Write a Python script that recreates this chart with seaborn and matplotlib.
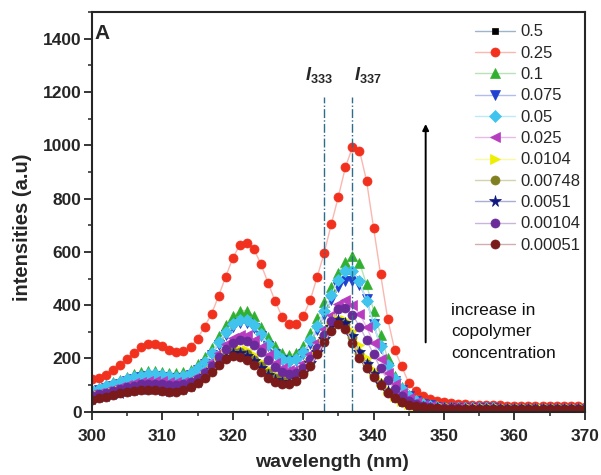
import pandas as pd
import matplotlib
matplotlib.use("Agg")
import matplotlib.pyplot as plt
from matplotlib.ticker import MultipleLocator
from matplotlib.colors import to_rgb
import seaborn as sns

# wavelength grid (nm), one point per nm
wavelength = list(range(300, 371))

conc_labels = ['0.5', '0.25', '0.1', '0.075', '0.05', '0.025',
               '0.0104', '0.00748', '0.0051', '0.00104', '0.00051']

i_0_5 = [78, 86, 95, 104, 113, 122, 130, 136, 140, 140,
         137, 133, 132, 135, 145, 163, 188, 220, 262, 300,
         330, 345, 343, 325, 292, 255, 222, 198, 190, 198,
         225, 268, 322, 380, 440, 495, 528, 530, 490, 415,
         330, 245, 175, 122, 84, 58, 40, 30, 23, 19,
         16, 15, 14, 14, 13, 13, 13, 13, 12, 12,
         12, 12, 12, 12, 12, 12, 11, 11, 11, 11, 11]
i_0_25 = [123, 126, 139, 155, 175, 198, 222, 243, 254, 253,
          245, 233, 226, 229, 243, 275, 320, 368, 435, 507,
          576, 626, 635, 610, 554, 485, 416, 357, 330, 330,
          358, 418, 507, 597, 704, 807, 917, 993, 980, 867,
          690, 516, 350, 232, 170, 108, 77, 60, 48, 41,
          35, 32, 30, 28, 27, 26, 25, 24, 24, 23,
          23, 22, 22, 21, 21, 21, 20, 20, 20, 20, 19]
i_0_1 = [82, 90, 100, 110, 120, 130, 140, 148, 153, 153,
         150, 146, 145, 148, 158, 178, 205, 240, 285, 325,
         358, 378, 380, 358, 320, 282, 247, 220, 212, 220,
         248, 295, 352, 412, 470, 522, 562, 585, 560, 478,
         380, 290, 200, 135, 92, 62, 43, 32, 25, 20,
         17, 16, 15, 15, 14, 14, 14, 13, 13, 13,
         13, 13, 12, 12, 12, 12, 12, 12, 12, 12, 12]
i_0_075 = [72, 80, 88, 97, 106, 115, 123, 129, 133, 133,
           130, 126, 125, 128, 138, 155, 180, 212, 252, 290,
           318, 332, 332, 314, 283, 248, 216, 193, 184, 192,
           216, 256, 306, 362, 420, 468, 492, 490, 475, 425,
           330, 240, 165, 115, 82, 58, 41, 31, 24, 19,
           16, 15, 14, 14, 13, 13, 13, 13, 12, 12,
           12, 12, 12, 12, 12, 12, 11, 11, 11, 11, 11]
i_0_05 = [78, 86, 95, 104, 113, 122, 130, 136, 140, 140,
          137, 133, 132, 135, 145, 163, 188, 220, 262, 300,
          330, 345, 343, 325, 292, 255, 222, 198, 190, 198,
          225, 268, 322, 380, 440, 495, 528, 530, 490, 415,
          330, 245, 175, 122, 84, 58, 40, 30, 23, 19,
          16, 15, 14, 14, 13, 13, 13, 13, 12, 12,
          12, 12, 12, 12, 12, 12, 11, 11, 11, 11, 11]
i_0_025 = [65, 72, 79, 86, 94, 101, 108, 113, 116, 116,
           114, 111, 110, 113, 121, 136, 158, 186, 220, 253,
           278, 290, 287, 270, 243, 212, 184, 163, 155, 162,
           183, 218, 262, 312, 365, 405, 418, 400, 368, 318,
           258, 198, 147, 104, 72, 50, 35, 27, 21, 17,
           15, 14, 13, 13, 13, 12, 12, 12, 12, 12,
           12, 11, 11, 11, 11, 11, 11, 11, 11, 11, 10]
i_0_0104 = [52, 58, 64, 71, 77, 83, 88, 92, 94, 93,
            90, 87, 86, 89, 98, 112, 132, 158, 188, 215,
            232, 237, 230, 212, 188, 160, 137, 122, 118, 126,
            148, 182, 225, 272, 318, 350, 345, 305, 250, 200,
            155, 115, 82, 58, 41, 30, 23, 19, 16, 14,
            13, 13, 12, 12, 12, 12, 12, 11, 11, 11,
            11, 11, 11, 11, 11, 11, 10, 10, 10, 10, 10]
i_0_00748 = [50, 56, 62, 68, 74, 80, 84, 87, 89, 88,
             85, 82, 82, 88, 98, 114, 135, 160, 188, 212,
             225, 226, 216, 196, 170, 144, 125, 115, 115, 126,
             150, 185, 228, 276, 320, 342, 330, 280, 222, 178,
             138, 104, 75, 54, 38, 28, 22, 18, 15, 14,
             13, 13, 12, 12, 12, 12, 11, 11, 11, 11,
             11, 11, 11, 11, 10, 10, 10, 10, 10, 10, 10]
i_0_0051 = [48, 54, 60, 66, 72, 78, 82, 85, 86, 85,
            82, 79, 80, 86, 96, 112, 133, 157, 184, 207,
            220, 220, 210, 190, 164, 139, 121, 112, 113, 124,
            148, 182, 226, 275, 320, 345, 333, 285, 225, 180,
            140, 106, 77, 55, 39, 29, 22, 18, 15, 14,
            13, 13, 12, 12, 12, 12, 11, 11, 11, 11,
            11, 11, 11, 11, 10, 10, 10, 10, 10, 10, 10]
i_0_00104 = [58, 65, 72, 79, 86, 92, 98, 103, 106, 106,
             104, 101, 100, 103, 110, 124, 145, 172, 205, 237,
             260, 270, 266, 250, 224, 195, 168, 148, 140, 146,
             165, 198, 240, 290, 340, 385, 390, 365, 320, 270,
             215, 163, 120, 85, 60, 42, 30, 23, 19, 16,
             14, 13, 13, 12, 12, 12, 12, 11, 11, 11,
             11, 11, 11, 11, 11, 10, 10, 10, 10, 10, 10]
i_0_00051 = [45, 51, 57, 63, 69, 74, 78, 81, 82, 80,
             77, 75, 76, 82, 92, 107, 127, 150, 175, 197,
             208, 207, 196, 176, 151, 128, 112, 104, 106, 117,
             140, 172, 215, 262, 305, 328, 312, 260, 201, 166,
             130, 100, 72, 52, 36, 27, 21, 17, 15, 13,
             12, 12, 12, 12, 11, 11, 11, 11, 11, 11,
             11, 11, 10, 10, 10, 10, 10, 10, 10, 10, 10]

series = [i_0_5, i_0_25, i_0_1, i_0_075, i_0_05, i_0_025,
          i_0_0104, i_0_00748, i_0_0051, i_0_00104, i_0_00051]

colors = ['#000000', '#F2301E', '#30B030', '#2040D0', '#40C4EE', '#B83CC0',
          '#EEEE00', '#808020', '#101880', '#6A2A9A', '#7A1A1A']
markers = ['s', 'o', '^', 'v', 'D', '<', '>', 'o', '*', 'o', 'o']
msizes = [5, 6.5, 7, 7, 6.5, 7, 7, 6.5, 8.5, 6.5, 6.5]

df = pd.DataFrame({'wavelength': wavelength * len(series),
                   'intensity': [v for s in series for v in s],
                   'conc': [lab for lab, s in zip(conc_labels, series) for _ in s]})

sns.set_style('ticks')
plt.rcParams['font.family'] = ['Liberation Sans', 'DejaVu Sans']
plt.rcParams['mathtext.fontset'] = 'custom'
plt.rcParams['mathtext.rm'] = 'Liberation Sans'
plt.rcParams['mathtext.bf'] = 'Liberation Sans:bold'
plt.rcParams['mathtext.bfit'] = 'Liberation Sans:bold:italic'

fig, ax = plt.subplots(figsize=(6.01, 4.75), dpi=100)
fig.subplots_adjust(left=0.153, right=0.973, bottom=0.133, top=0.975)


def light(c, f=0.35):
    r, g, b = to_rgb(c)
    if c == '#000000':
        return (0.62, 0.70, 0.80)
    return (1 - f + f * r, 1 - f + f * g, 1 - f + f * b)


for lab, col, mk, ms in zip(conc_labels, colors, markers, msizes):
    sub = df[df['conc'] == lab]
    sns.lineplot(data=sub, x='wavelength', y='intensity', ax=ax,
                 color=light(col), linewidth=1.0, marker=mk, markersize=ms,
                 markerfacecolor=col, markeredgecolor=col, markeredgewidth=0.5,
                 label=lab)

# reference lines for I333 and I337
ax.vlines([333, 337], 0, 1180, colors='#2E6C8C', linestyles='-.', linewidth=1.0)
ax.text(330.3, 1245, r'$\mathbfit{I}_{\mathbf{333}}$', fontsize=13)
ax.text(337.2, 1245, r'$\mathbfit{I}_{\mathbf{337}}$', fontsize=13)

ax.annotate('', xy=(347.4, 1090), xytext=(347.4, 250),
            arrowprops=dict(arrowstyle='-|>', color='black', lw=1.4, mutation_scale=9))
ax.text(351.0, 410, 'increase in\ncopolymer\nconcentration', fontsize=12.5,
        va='top', linespacing=1.55, color='#111111')
ax.text(300.3, 1455, 'A', fontsize=15, fontweight='bold', va='top')

ax.set_xlim(300, 370)
ax.set_ylim(0, 1500)
ax.set_xticks(range(300, 371, 10))
ax.set_yticks(range(0, 1401, 200))
ax.xaxis.set_minor_locator(MultipleLocator(5))
ax.yaxis.set_minor_locator(MultipleLocator(100))
ax.tick_params(which='major', direction='out', length=5.5, width=1.3,
               labelsize=12.5, pad=2)
ax.tick_params(which='minor', direction='out', length=3, width=1.1)
ax.tick_params(axis='x', which='major', pad=7)
for lab in ax.get_xticklabels() + ax.get_yticklabels():
    lab.set_fontweight('bold')
for sp in ax.spines.values():
    sp.set_linewidth(1.5)

ax.set_xlabel('wavelength (nm)', fontsize=14, fontweight='bold')
ax.set_ylabel('intensities (a.u)', fontsize=14.5, fontweight='bold')
ax.xaxis.set_label_coords(0.487, -0.105)
ax.yaxis.set_label_coords(-0.122, 0.4625)

ax.legend(loc='upper left', bbox_to_anchor=(0.7525, 1.0), frameon=False,
          fontsize=12, handlelength=2.4, handletextpad=0.3,
          labelspacing=0.38, borderaxespad=0.35)

plt.savefig('out.png', dpi=100)
